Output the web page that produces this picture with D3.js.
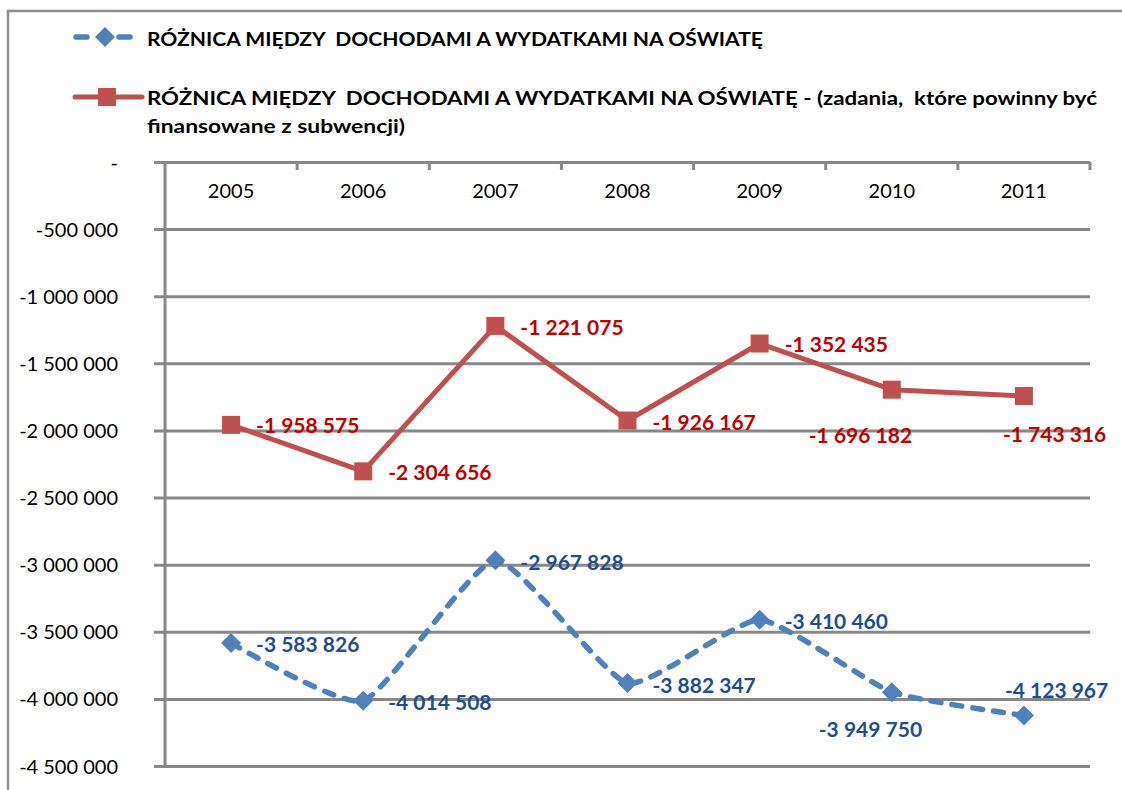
<!DOCTYPE html>
<html>
<head>
<meta charset="utf-8">
<script src="https://cdn.jsdelivr.net/npm/d3@7"></script>
<style>
  body { margin: 0; background: #fff; }
  svg { display: block; font-family: Lato, "Open Sans", sans-serif; }
  text { white-space: pre; }
</style>
</head>
<body>
<svg id="chart" width="1122" height="790"></svg>
<script>
// data
const years = ['2005', '2006', '2007', '2008', '2009', '2010', '2011'];
const roznica = [-3583826, -4014508, -2967828, -3882347, -3410460, -3949750, -4123967];
const roznicaSubwencja = [-1958575, -2304656, -1221075, -1926167, -1352435, -1696182, -1743316];
const yTicks = [0, -500000, -1000000, -1500000, -2000000, -2500000, -3000000, -3500000, -4000000, -4500000];

const legendLine1 = 'RÓŻNICA MIĘDZY  DOCHODAMI A WYDATKAMI NA OŚWIATĘ';
const legendLine2 = 'RÓŻNICA MIĘDZY  DOCHODAMI A WYDATKAMI NA OŚWIATĘ - (zadania,  które powinny być';
const legendLine3 = 'finansowane z subwencji)';

// label offsets (from point) for data labels, [dx, dy]
const blueLabelOffsets = [[25, 9], [25, 9], [25, 10], [25, 10], [25, 9], [-73, 45], [-19, -18]];
const redLabelOffsets = [[25, 8], [25, 9], [25, 9], [25, 9], [25, 8], [-83, 53], [-21, 46]];

const blue = '#4F81BD';
const red = '#C0504D';
const blueText = '#1F4E8C';
const redText = '#C00000';
const gridColor = '#888888';

const svg = d3.select('#chart');

const plot = { left: 165, right: 1090, top: 162, bottom: 766 };

// frame
svg.append('path')
  .attr('d', `M8,790 L8,11 L1122,11`)
  .attr('fill', 'none')
  .attr('stroke', '#8c8c8c')
  .attr('stroke-width', 2.5);

const xScale = d3.scaleBand()
  .domain(years)
  .range([plot.left, plot.right])
  .padding(0);

const yScale = d3.scaleLinear()
  .domain([-4500000, 0])
  .range([plot.bottom, plot.top]);

const xCenter = d => xScale(d) + xScale.bandwidth() / 2;
const fmt = v => v === 0 ? '-' : '-' + d3.format(',')(Math.abs(v)).replace(/,/g, ' ');

// y axis with grid lines
const yAxis = svg.append('g')
  .attr('transform', `translate(${plot.left},0)`)
  .call(d3.axisLeft(yScale)
    .tickValues(yTicks)
    .tickSize(-(plot.right - plot.left))
    .tickPadding(47)
    .tickFormat(fmt));

yAxis.select('.domain').remove();
yAxis.selectAll('.tick line')
  .attr('x1', -11)
  .attr('stroke', gridColor)
  .attr('stroke-width', 3);
yAxis.selectAll('.tick text')
  .attr('font-size', 20)
  .attr('font-family', 'Lato, sans-serif')
  .attr('fill', '#000')
  .attr('dy', '0.35em');

yAxis.append('line')
  .attr('x1', 0).attr('x2', 0)
  .attr('y1', plot.top).attr('y2', plot.bottom)
  .attr('stroke', gridColor)
  .attr('stroke-width', 3);

// category axis at the top (value 0)
const xAxis = svg.append('g')
  .attr('transform', `translate(0,${plot.top})`)
  .call(d3.axisBottom(xScale).tickSize(0).tickPadding(22));
xAxis.select('.domain').remove();
xAxis.selectAll('.tick text')
  .attr('font-size', 20)
  .attr('font-family', 'Lato, sans-serif')
  .attr('fill', '#000');

const boundaries = years.map(d => xScale(d)).concat([plot.right]);
xAxis.selectAll('.bound')
  .data(boundaries.slice(1))
  .enter()
  .append('line')
  .attr('x1', d => d).attr('x2', d => d)
  .attr('y1', 0).attr('y2', 8)
  .attr('stroke', gridColor)
  .attr('stroke-width', 3);

// red series: straight line with squares
const redLine = d3.line()
  .x((d, i) => xCenter(years[i]))
  .y(d => yScale(d));

svg.append('path')
  .datum(roznicaSubwencja)
  .attr('d', redLine)
  .attr('fill', 'none')
  .attr('stroke', red)
  .attr('stroke-width', 5)
  .attr('stroke-linejoin', 'round');

svg.selectAll('.red-marker')
  .data(roznicaSubwencja)
  .enter()
  .append('rect')
  .attr('x', (d, i) => xCenter(years[i]) - 9)
  .attr('y', d => yScale(d) - 9)
  .attr('width', 18)
  .attr('height', 18)
  .attr('fill', red);

// blue series: smoothed dashed line with diamonds
const blueLine = d3.line()
  .x((d, i) => xCenter(years[i]))
  .y(d => yScale(d))
  .curve(d3.curveCardinal.tension(0.5));

svg.append('path')
  .datum(roznica)
  .attr('d', blueLine)
  .attr('fill', 'none')
  .attr('stroke', blue)
  .attr('stroke-width', 5.5)
  .attr('stroke-linecap', 'round')
  .attr('stroke-dasharray', '10,11');

const diamond = d3.symbol().type(d3.symbolSquare).size(200);
svg.selectAll('.blue-marker')
  .data(roznica)
  .enter()
  .append('path')
  .attr('d', diamond)
  .attr('transform', (d, i) => `translate(${xCenter(years[i])},${yScale(d)}) rotate(45)`)
  .attr('fill', blue);

// data labels
svg.selectAll('.red-label')
  .data(roznicaSubwencja)
  .enter()
  .append('text')
  .attr('x', (d, i) => xCenter(years[i]) + redLabelOffsets[i][0])
  .attr('y', (d, i) => yScale(d) + redLabelOffsets[i][1])
  .attr('font-size', 21)
  .attr('font-weight', 'bold')
  .attr('fill', redText)
  .text(d => fmt(d));

svg.selectAll('.blue-label')
  .data(roznica)
  .enter()
  .append('text')
  .attr('x', (d, i) => xCenter(years[i]) + blueLabelOffsets[i][0])
  .attr('y', (d, i) => yScale(d) + blueLabelOffsets[i][1])
  .attr('font-size', 21)
  .attr('font-weight', 'bold')
  .attr('fill', blueText)
  .text(d => fmt(d));

// legend
const legend = svg.append('g');

legend.append('line')
  .attr('x1', 76).attr('x2', 130)
  .attr('y1', 37).attr('y2', 37)
  .attr('stroke', blue)
  .attr('stroke-width', 5.5)
  .attr('stroke-linecap', 'round')
  .attr('stroke-dasharray', '11,32');
legend.append('path')
  .attr('d', diamond)
  .attr('transform', 'translate(105,37) rotate(45)')
  .attr('fill', blue);

legend.append('line')
  .attr('x1', 75).attr('x2', 142)
  .attr('y1', 97).attr('y2', 97)
  .attr('stroke', red)
  .attr('stroke-width', 5)
  .attr('stroke-linecap', 'round');
legend.append('rect')
  .attr('x', 98).attr('y', 88)
  .attr('width', 18).attr('height', 18)
  .attr('fill', red);

const legendText = [
  { t: legendLine1, y: 46, w: 616 },
  { t: legendLine2, y: 105, w: 950 },
  { t: legendLine3, y: 133, w: 258 }
];
legend.selectAll('.legend-text')
  .data(legendText)
  .enter()
  .append('text')
  .attr('x', 147)
  .attr('y', d => d.y)
  .attr('font-size', 19)
  .attr('font-weight', 'bold')
  .attr('fill', '#000')
  .attr('textLength', d => d.w)
  .attr('lengthAdjust', 'spacingAndGlyphs')
  .text(d => d.t);
</script>
</body>
</html>
